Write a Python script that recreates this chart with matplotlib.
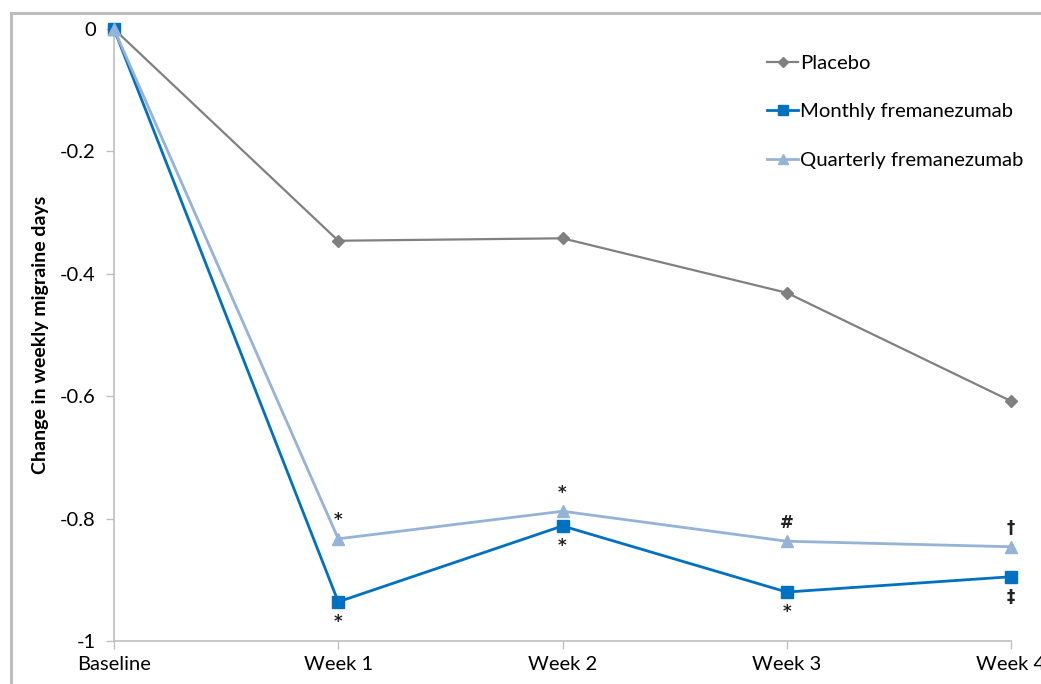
import matplotlib.pyplot as plt
import matplotlib.patches as patches
import numpy as np

plt.rcParams['font.family'] = ['Lato', 'DejaVu Sans']

weeks = ['Baseline', 'Week 1', 'Week 2', 'Week 3', 'Week 4']
placebo = [0, -0.346, -0.342, -0.431, -0.608]
monthly = [0, -0.936, -0.812, -0.920, -0.895]
quarterly = [0, -0.833, -0.788, -0.837, -0.846]

# significance marks: (week index, symbol) above quarterly / below monthly
marks_quarterly = [(1, '*'), (2, '*'), (3, '#'), (4, '†')]
marks_monthly = [(1, '*'), (2, '*'), (3, '*'), (4, '‡')]

fig = plt.figure(figsize=(10.41, 6.84), dpi=100)
ax = fig.add_axes([114 / 1041, 1 - 641 / 684, (1011 - 114) / 1041, (641 - 29) / 684])

x = np.arange(len(weeks))
ax.plot(x, placebo, color='#808080', marker='D', markersize=6, lw=1.6,
        label='Placebo', clip_on=False, zorder=3)
ax.plot(x, monthly, color='#0070C0', marker='s', markersize=9, lw=2,
        label='Monthly fremanezumab', clip_on=False, zorder=4)
ax.plot(x, quarterly, color='#95B3D7', marker='^', markersize=9, lw=2,
        label='Quarterly fremanezumab', clip_on=False, zorder=5)

for i, s in marks_quarterly:
    ax.annotate(s, (x[i], quarterly[i]), xytext=(0, 7), textcoords='offset points',
                ha='center', va='bottom', fontsize=12, fontweight='bold', color='#222222',
                family=['DejaVu Sans'])
for i, s in marks_monthly:
    ax.annotate(s, (x[i], monthly[i]), xytext=(0, -8), textcoords='offset points',
                ha='center', va='top', fontsize=12, fontweight='bold', color='#222222',
                family=['DejaVu Sans'])

ax.set_xlim(0, 4)
ax.set_ylim(-1, 0)
ax.set_xticks(x)
ax.set_xticklabels(weeks, fontsize=14.5)
ax.set_yticks([0, -0.2, -0.4, -0.6, -0.8, -1])
ax.set_yticklabels(['0', '-0.2', '-0.4', '-0.6', '-0.8', '-1'], fontsize=14.5)
ax.tick_params(axis='both', color='#bfbfbf', length=6, width=1, pad=5)
ax.tick_params(axis='y', pad=7)

for side in ['top', 'right']:
    ax.spines[side].set_visible(False)
for side in ['left', 'bottom']:
    ax.spines[side].set_color('#bfbfbf')
    ax.spines[side].set_linewidth(1.2)

ax.set_ylabel('Change in weekly migraine days', fontsize=14, fontweight='bold', labelpad=8)

leg = ax.legend(loc='upper left', bbox_to_anchor=(0.708, 0.988), frameon=False,
                fontsize=14.6, handlelength=1.5, handletextpad=0.12, labelspacing=1.55,
                markerscale=0.8)

# outer chart border
border = patches.Rectangle((11 / 1041, -0.1), 1.2, 1.1 - 13 / 684,
                           transform=fig.transFigure, fill=False,
                           edgecolor='#bdbdbd', linewidth=2.2)
fig.patches.append(border)

fig.savefig('out.png', dpi=100)
